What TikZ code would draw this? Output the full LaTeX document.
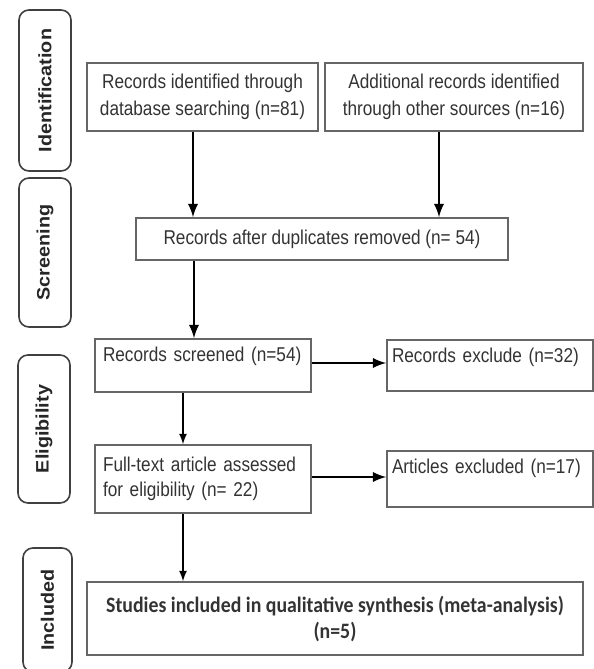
\documentclass[tikz,border=0pt]{standalone}
\usepackage{fontspec}
\setmainfont[FakeStretch=0.86]{Liberation Sans}
\newfontfamily\stagefont[FakeStretch=1.1]{Liberation Sans}
\newfontfamily\studyfont[FakeStretch=0.9]{Carlito}
\usepackage{tikz}
\usetikzlibrary{positioning}
\usepgflibrary{arrows}

\begin{document}
\begin{tikzpicture}[x=0.5pt, y=-0.5pt]
		\tikzset{>=latex}
		\tikzstyle{stage}=[rectangle, rounded corners=5pt, draw=black!75, line width=0.8pt, minimum height=26pt, inner sep=0pt, font=\stagefont\bfseries\fontsize{9}{11}\selectfont, text=black!85, rotate=90]
		\tikzstyle{recbox}=[rectangle, draw=black!60, line width=0.8pt, text=black!80, inner sep=4pt, font=\fontsize{10}{13.5}\selectfont, align=center]
		\tikzstyle{flow}=[->, line width=1.3pt, color=black]
		\useasboundingbox (0,0) rectangle (594,669);

		% stages on the left
		\node[stage, minimum width=80.5pt] (1stage) at (45,90.5) {Identification};
		\node[stage, minimum width=74.5pt] (2stage) at (45,252.5) {Screening};
		\node[stage, minimum width=74pt] (3stage) at (44,429) {Eligibility};
		\node[stage, minimum width=62pt, minimum height=24.5pt] (4stage) at (47.5,610) {Included};

		% identification
		\node[recbox, minimum width=115.5pt, minimum height=34pt] (1records) at (202.5,97) {Records identified through\\database searching (n=81)};
		\node[recbox, minimum width=129pt, minimum height=34pt] (2records) at (454,97) {Additional records identified\\through other sources (n=16)};

		% screening
		\node[recbox, minimum width=186pt, minimum height=21pt] (dupbox) at (322,239) {Records after duplicates removed (n= 54)};
		\draw[flow] ([xshift=-4.75pt]1records.south) -- ([xshift=-4.75pt]1records.south |- dupbox.north);
		\draw[flow] ([xshift=-7.5pt]2records.south) -- ([xshift=-7.5pt]2records.south |- dupbox.north);

		% eligibility
		\node[recbox, align=left, text width=100pt, text height=7pt, text depth=11.5pt] (screened) at (203,365.5) {Records screened (n=54)};
		\node[recbox, align=left, inner xsep=2.5pt, text width=98pt, text height=7pt, text depth=10.5pt] (1excluded) at (490,365.5) {Records exclude (n=32)};
		\node[recbox, align=left, text width=100pt, minimum height=34pt, font=\fontsize{10}{12.5}\selectfont] (fulltext) at (203,479) {Full-text article assessed\\for eligibility (n= 22)};
		\node[recbox, align=left, inner xsep=2.5pt, text width=98pt, text height=7pt, text depth=13pt] (2excluded) at (490,479) {Articles excluded\ (n=17)};
		\draw[flow] ([xshift=-4.5pt]screened.north |- dupbox.south) -- ([xshift=-4.5pt]screened.north);
		\draw[flow] ([yshift=1.25pt]screened.east) -- ([yshift=1.25pt]screened.east -| 1excluded.west);
		\draw[flow] ([yshift=1pt]fulltext.east) -- ([yshift=1pt]fulltext.east -| 2excluded.west);
		\draw[flow, line width=0.8pt] ([xshift=-10pt]screened.south) -- ([xshift=-10pt]fulltext.north);

		% included
		\node[recbox, minimum width=248pt, minimum height=36.5pt, font=\studyfont\bfseries\fontsize{11}{13}\selectfont] (studies) at (335,618.5) {Studies included in qualitative synthesis (meta-analysis)\\(n=5)};
		\draw[flow, line width=0.8pt] ([xshift=-10pt]fulltext.south) -- ([xshift=-10pt]fulltext.south |- studies.north);
	\end{tikzpicture}
\end{document}
